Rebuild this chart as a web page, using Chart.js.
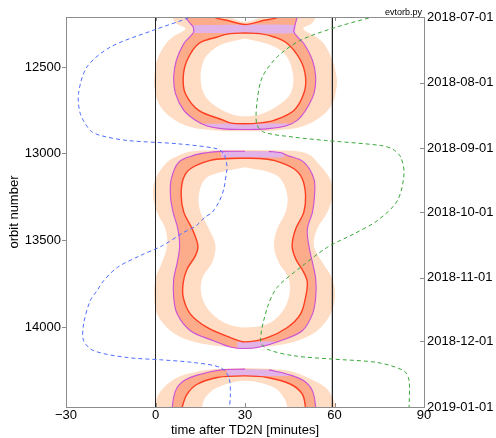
<!DOCTYPE html>
<html><head><meta charset="utf-8">
<script src="https://cdn.jsdelivr.net/npm/chart.js@4.4.1/dist/chart.umd.min.js"></script>
<style>html,body{margin:0;padding:0;background:#fff;}canvas{display:block;}</style>
</head><body>
<canvas id="c" width="496" height="438"></canvas>
<script>
// ---- axes ----
const X_RANGE = [-30, 90];
const X_TICKS = [-30, 0, 30, 60, 90];
const X_TICK_LABELS = ['\u221230', '0', '30', '60', '90'];
const X_TITLE = 'time after TD2N [minutes]';
const ORBIT_RANGE = [12212, 14458];
const Y_TICKS = [12500, 13000, 13500, 14000];
const Y_TITLE = 'orbit number';
const DAY_RANGE = [0, 184];
const DATE_DAYS = [0, 31, 62, 92, 123, 153, 184];
const DATE_LABELS = ['2018-07-01', '2018-08-01', '2018-09-01', '2018-10-01', '2018-11-01', '2018-12-01', '2019-01-01'];
const REF_TIMES = [0, 59.3];
const NOTE = 'evtorb.py';

// ---- band boundaries [minutes, orbit] ----
// lobe 1 (top)
const PEACH1_L = [[4.3,12150],[5.6,12212],[7,12250],[10,12280],[5.8,12327],[3.5,12365],[0.5,12461],[-0.4,12558],[-0.4,12615],[1.1,12711],[5.0,12788],[11.7,12846],[20,12865],[30,12870]];
const PEACH1_R = [[54.7,12150],[53.7,12212],[52.3,12250],[49.5,12280],[53.8,12327],[56.4,12365],[59.3,12461],[60.7,12558],[60.7,12615],[59.3,12711],[55.3,12788],[48.6,12846],[40,12865]];
const MAG1_L = [[9.0,12150],[10.0,12212],[11.7,12250],[12.6,12269],[12.8,12298],[11.5,12327],[9.5,12365],[7.0,12461],[6.1,12558],[6.7,12653],[9.5,12750],[13.4,12807],[17.3,12840],[22,12855],[30,12860]];
const MAG1_R = [[48.6,12150],[47.5,12212],[46.9,12250],[46.6,12269],[46.4,12298],[47.6,12327],[49.7,12365],[52.6,12461],[53.7,12558],[53.1,12653],[50.3,12750],[47.5,12807],[43.6,12840],[38,12855]];
const RED0 = [[15,12150],[19.5,12212],[24,12231],[30,12255],[36.3,12231],[41.3,12212],[45,12150]];
const HOLE0 = [[20,12150],[25.1,12212],[30,12240],[35.2,12212],[40,12150]];
const RED1 = [[30,12304],[35,12308],[39.7,12327],[44.2,12365],[48.6,12461],[50.3,12558],[49.7,12653],[46.4,12750],[39.7,12807],[35,12822],[30,12827],[25,12822],[22.9,12807],[14.5,12750],[10.0,12653],[9.3,12558],[10.6,12461],[14.5,12365],[20.7,12327],[25,12308],[30,12304]];
const HOLE1 = [[30,12336],[37,12365],[41.9,12404],[44.7,12461],[46.2,12558],[45.3,12653],[41.9,12711],[35.8,12769],[30,12784],[25.1,12769],[19.0,12711],[16.2,12653],[15.1,12558],[16.2,12461],[19.0,12404],[23,12365],[30,12336]];
const LAV1A = [[12.6,12259],[46.7,12259],[46.4,12304],[12.8,12304]];
const LAV1B = [[15.5,12827],[45.5,12827],[43.6,12840],[38,12855],[30,12860],[22,12855],[17.3,12840]];
// lobe 2 (middle)
const PEACH2_L = [[30,12978],[20,12980],[12,12987],[7.8,13009],[3.9,13048],[0,13144],[-0.8,13240],[0.5,13337],[3.3,13432],[3.9,13529],[2.2,13625],[0,13721],[-0.4,13827],[0.5,13923],[5.0,14019],[11.7,14077],[20,14105],[30,14115]];
const PEACH2_R = [[40,12980],[48,12987],[52,13009],[54.2,13048],[58.5,13144],[59.3,13240],[57.6,13337],[54.2,13432],[53.1,13529],[55.9,13625],[59.3,13721],[60.1,13827],[58.7,13923],[54.2,14019],[47.5,14077],[40,14105]];
const MAG2_L = [[30,12985],[22,12986],[17,12994],[12.8,13009],[7.8,13048],[5.3,13144],[5.0,13240],[5.9,13337],[7.5,13432],[8.1,13529],[7.3,13625],[6.1,13721],[6.1,13827],[7.3,13923],[11.7,14019],[19.5,14077],[25,14112],[30,14121]];
const MAG2_R = [[38,12986],[42,12994],[44.2,13009],[49.7,13048],[53.1,13144],[53.3,13240],[52.6,13337],[50.9,13432],[51.4,13529],[52.6,13625],[53.7,13721],[53.7,13827],[52.6,13923],[49.2,14019],[41.9,14077],[35,14112]];
const RED2 = [[30,13025],[35,13027],[39.7,13038],[46.4,13086],[49.2,13144],[50.3,13240],[49.7,13337],[47.0,13432],[45.8,13529],[47.0,13605],[49.7,13683],[50.9,13740],[50.3,13827],[48.6,13923],[44.2,14000],[37.5,14058],[30,14083],[25.1,14058],[17.3,14000],[11.7,13923],[9.3,13827],[9.3,13740],[10.6,13663],[13.4,13586],[14.2,13529],[12.3,13432],[9.5,13337],[8.6,13240],[9.3,13144],[11.7,13086],[18.4,13038],[25,13027],[30,13025]];
const HOLE2 = [[30,13077],[38.2,13106],[41.9,13144],[44.2,13240],[43.6,13337],[40.8,13432],[39.7,13529],[41.3,13625],[44.7,13721],[44.7,13827],[41.9,13923],[37.5,13980],[30,14000],[24.0,13980],[19.0,13923],[15.6,13827],[15.6,13721],[19.0,13625],[20.1,13529],[17.9,13432],[15.1,13337],[14.5,13240],[16.7,13144],[21.8,13106],[30,13077]];
const LAV2A = [[22,12986],[30,12985],[38,12986],[43,12995],[43,13019],[22,13019]];
const LAV2B = [[27.4,14083],[40.5,14083],[35,14112],[30,14121],[27.4,14120]];
// lobe 3 (bottom)
const PEACH3_L = [[30,14234],[22,14238],[15,14250],[7.3,14288],[2.8,14346],[0.5,14404],[0,14462],[-0.2,14520]];
const PEACH3_R = [[38,14238],[45,14250],[50.9,14288],[57.0,14346],[59.3,14404],[60.4,14462],[60.6,14520]];
const MAG3_L = [[30,14240],[22,14244],[15.1,14269],[9.5,14307],[6.7,14365],[5.6,14462],[5.4,14520]];
const MAG3_R = [[38,14244],[44.2,14269],[49.7,14307],[52.6,14365],[53.7,14462],[53.8,14520]];
const RED3 = [[8.6,14520],[8.9,14462],[10.6,14384],[14.0,14327],[20.7,14288],[30,14279],[37.5,14288],[45.3,14327],[49.2,14384],[50.3,14462],[50.6,14520]];
const HOLE3 = [[15.3,14520],[15.6,14462],[16.7,14404],[20.7,14346],[30,14307],[39.7,14346],[43.0,14404],[44.2,14462],[44.5,14520]];
const LAV3 = [[24,14242],[30,14240],[38,14244],[44.2,14269],[46,14279],[24,14279]];

// ---- dashed curves ----
const BLUE = [[15.1,12173],[11.7,12212],[-0.7,12288],[-15.1,12385],[-23.0,12500],[-25.8,12653],[-25.2,12769],[-21.9,12865],[-18.5,12894],[-9.5,12923],[7.3,12942],[20.7,12971],[22.9,13000],[23.5,13028],[24.0,13077],[23.8,13106],[22.9,13202],[21.5,13269],[19.0,13337],[16.6,13365],[13.7,13413],[9.4,13453],[2.3,13529],[-5.1,13586],[-12.8,13654],[-17.4,13731],[-19.6,13788],[-21.9,13846],[-24.1,13980],[-24.1,14077],[-20.7,14134],[-9.5,14173],[1.6,14186],[12.8,14202],[21.8,14231],[24.6,14288],[25.1,14384],[24.8,14462],[24.7,14500]];
const GREEN = [[80.5,12173],[72.7,12212],[60.9,12269],[48.6,12346],[40.8,12442],[35.8,12558],[34.1,12692],[33.9,12827],[36.3,12875],[46.4,12904],[57,12923],[75.5,12952],[79.5,12973],[82.2,13019],[83.3,13115],[81.1,13269],[74.4,13384],[66.5,13461],[57.6,13538],[48.6,13654],[40.8,13769],[37.5,13885],[35.2,14077],[37.5,14125],[46.4,14163],[59.3,14182],[74.4,14202],[83.3,14250],[85.0,14307],[85.0,14462],[85,14500]];

// ---- colours ----
const C_PEACH = '#FFDCC4', C_SALMON = '#FCAB8B', C_LAV = '#E2B3E6', C_MAG = '#CC4FD8', C_RED = '#FF3D1F', C_BLUE = '#4F6EFF', C_GREEN = '#3AA83A';

const layers = [];
const pts = a => a.map(([x, y]) => ({x, y}));
const ring = (L, R) => L.concat(R.slice().reverse());
function area(a, color, tension = 0.35) {
  layers.push({data: pts(a), showLine: true, fill: 'shape', backgroundColor: color, borderColor: 'rgba(0,0,0,0)', borderWidth: 1, pointRadius: 0, tension});
}
function stroke(a, color, width, dash, tension = 0.35) {
  layers.push({data: pts(a), showLine: true, fill: false, borderColor: color, borderWidth: width, borderDash: dash || [], pointRadius: 0, tension});
}
area(ring(PEACH1_L, PEACH1_R), C_PEACH);
area(ring(PEACH2_L, PEACH2_R), C_PEACH);
area(ring(PEACH3_L, PEACH3_R), C_PEACH);
area(ring(MAG1_L, MAG1_R), C_SALMON);
area(ring(MAG2_L, MAG2_R), C_SALMON);
area(ring(MAG3_L, MAG3_R), C_SALMON);
[LAV1A, LAV1B, LAV2A, LAV2B, LAV3].forEach(a => area(a, C_LAV, 0.2));
[RED0, RED1, RED2, RED3].forEach(a => area(a, C_PEACH));
[HOLE0, HOLE1, HOLE2, HOLE3].forEach(a => area(a, '#FFFFFF'));
REF_TIMES.forEach(t => stroke([[t, ORBIT_RANGE[0] - 100], [t, ORBIT_RANGE[1] + 100]], '#222222', 1, null, 0));
stroke(ring(MAG1_L, MAG1_R), C_MAG, 1.1);
stroke(ring(MAG2_L, MAG2_R), C_MAG, 1.1);
stroke(ring(MAG3_L, MAG3_R), C_MAG, 1.1);
[RED0, RED1, RED2, RED3].forEach(a => stroke(a, C_RED, 1.4));
stroke(BLUE, C_BLUE, 1, [4, 3], 0.3);
stroke(GREEN, C_GREEN, 1, [4, 3], 0.3);
layers.forEach((d, i) => { d.order = layers.length - i; });

const AXIS_GREY = '#8c8c8c';
const frame = {
  id: 'frame',
  afterDatasetsDraw(chart) {
    const {ctx, chartArea: a, scales} = chart;
    ctx.save();
    ctx.strokeStyle = AXIS_GREY; ctx.lineWidth = 1;
    ctx.beginPath();
    ctx.moveTo(a.left, a.top + 0.5); ctx.lineTo(a.right, a.top + 0.5);
    X_TICKS.forEach(v => {
      const p = Math.round(scales.x.getPixelForValue(v)) + 0.5;
      ctx.moveTo(p, a.bottom); ctx.lineTo(p, a.bottom - 4);
      ctx.moveTo(p, a.top); ctx.lineTo(p, a.top + 4);
    });
    DATE_DAYS.forEach(v => {
      const p = Math.round(scales.y2.getPixelForValue(v)) + 0.5;
      ctx.moveTo(a.right, p); ctx.lineTo(a.right - 4, p);
    });
    ctx.stroke();
    ctx.fillStyle = '#000';
    ctx.font = '9px "Liberation Sans", Arial, sans-serif';
    ctx.textAlign = 'right'; ctx.textBaseline = 'alphabetic';
    ctx.fillText(NOTE, a.right - 2, a.top - 2);
    ctx.restore();
  }
};

Chart.defaults.font.family = '"Liberation Sans", Arial, sans-serif';
Chart.defaults.font.size = 13;
Chart.defaults.color = '#000';

new Chart(document.getElementById('c'), {
  type: 'scatter',
  data: {datasets: layers},
  options: {
    responsive: false, animation: false, events: [], devicePixelRatio: 1,
    layout: {padding: {top: 17, right: 0, bottom: 0, left: 0}},
    plugins: {legend: {display: false}, tooltip: {enabled: false}},
    scales: {
      x: {
        type: 'linear', min: X_RANGE[0], max: X_RANGE[1],
        afterBuildTicks: s => { s.ticks = X_TICKS.map(v => ({value: v})); },
        ticks: {callback: (v, i) => X_TICK_LABELS[i], padding: 2, maxRotation: 0, autoSkip: false, color: '#000', font: {size: 13, lineHeight: 1}},
        grid: {display: false, drawTicks: false},
        border: {display: true, color: AXIS_GREY, width: 1},
        title: {display: true, text: X_TITLE, color: '#000', font: {size: 13, lineHeight: 1}, padding: {top: 0, bottom: 1}}
      },
      y: {
        type: 'linear', position: 'left', reverse: true, min: ORBIT_RANGE[0], max: ORBIT_RANGE[1],
        afterBuildTicks: s => { s.ticks = Y_TICKS.map(v => ({value: v})); },
        afterFit: s => { s.width = 66; },
        ticks: {callback: (v, i) => String(Y_TICKS[i]), padding: 1, autoSkip: false, color: '#000'},
        grid: {display: true, drawOnChartArea: false, drawTicks: true, tickLength: 4, color: AXIS_GREY},
        border: {display: true, color: AXIS_GREY, width: 1},
        title: {display: true, text: Y_TITLE, color: '#000', padding: {top: 7, bottom: 0}}
      },
      y2: {
        type: 'linear', position: 'right', reverse: true, min: DAY_RANGE[0], max: DAY_RANGE[1],
        afterBuildTicks: s => { s.ticks = DATE_DAYS.map(v => ({value: v})); },
        afterFit: s => { s.width = 72; },
        ticks: {callback: (v, i) => DATE_LABELS[i], padding: 3, autoSkip: false, color: '#000'},
        grid: {display: false, drawTicks: false},
        border: {display: true, color: AXIS_GREY, width: 1}
      }
    }
  },
  plugins: [frame]
});
</script>
</body></html>
